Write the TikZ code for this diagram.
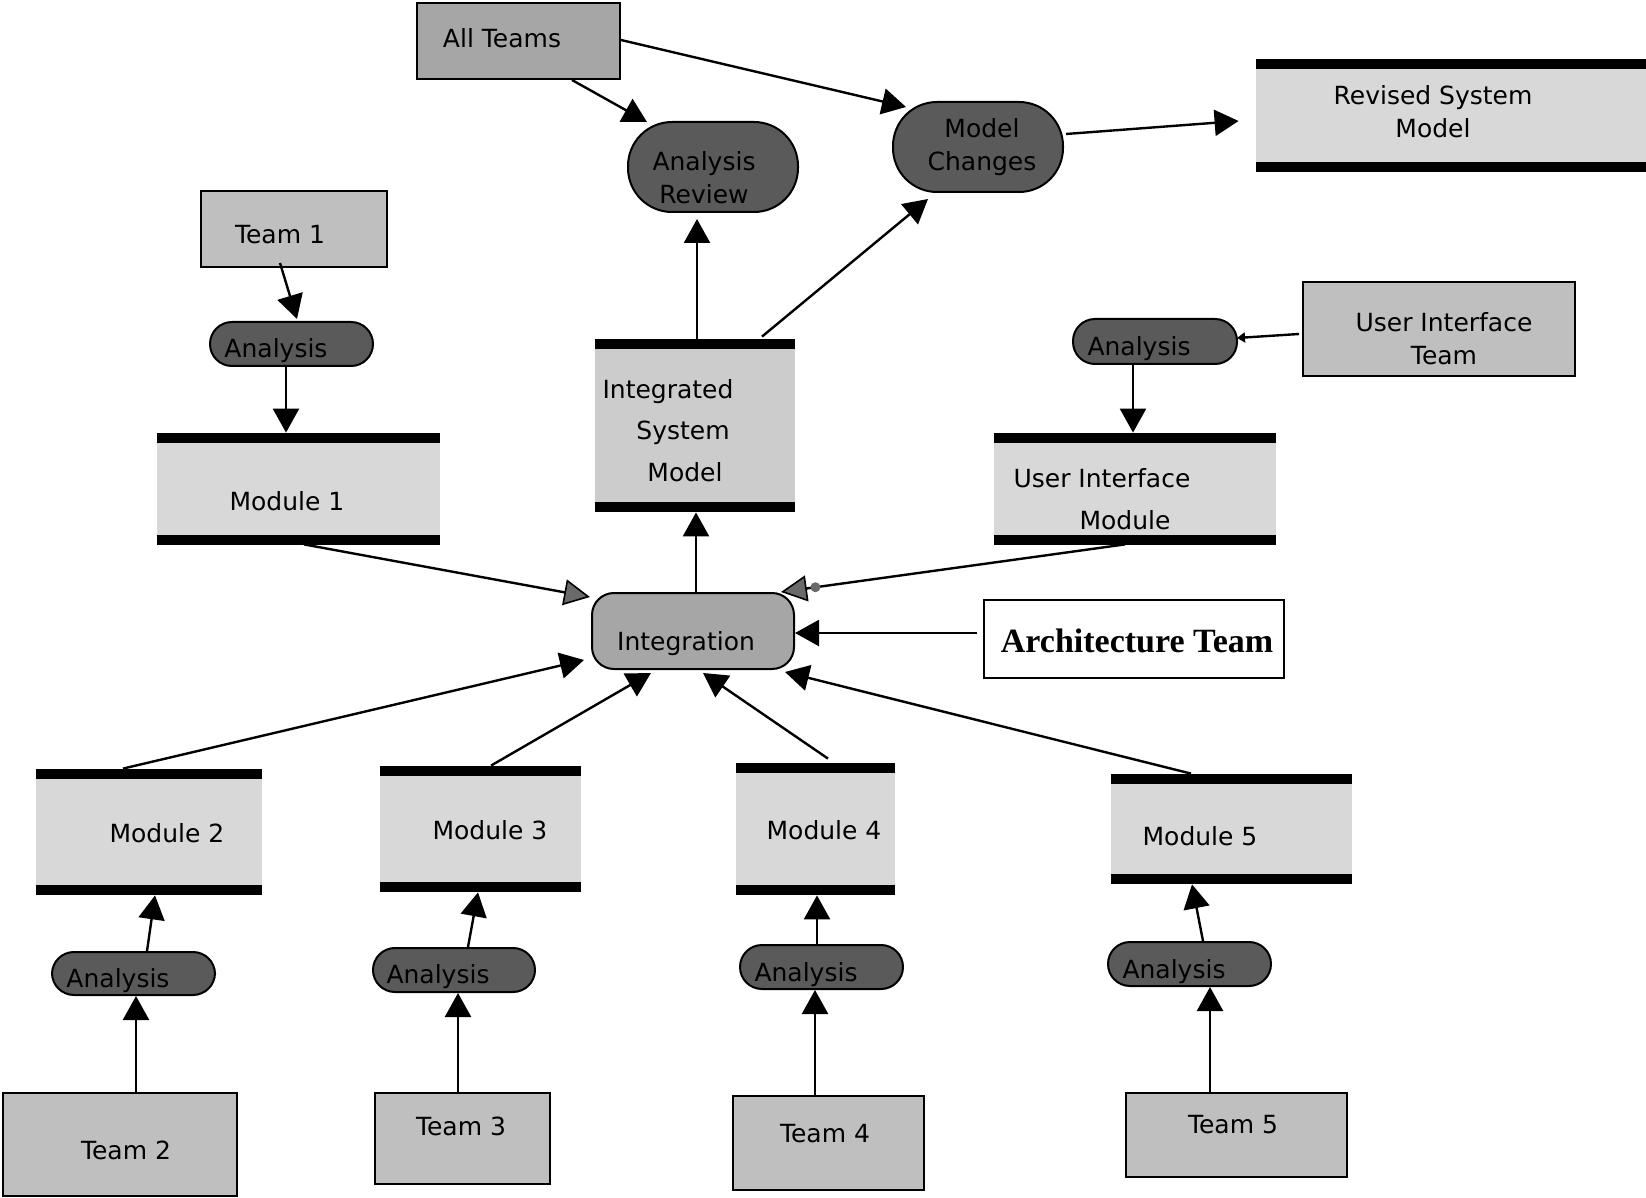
\documentclass[tikz,border=0pt]{standalone}
\usepackage{fontspec}
\setmainfont{DejaVu Sans}
\newfontfamily\archfont{Liberation Serif}
\usetikzlibrary{arrows.meta,calc}

\definecolor{teamgray}{HTML}{BFBFBF}
\definecolor{allgray}{HTML}{A6A6A6}
\definecolor{pilldark}{HTML}{5A5A5A}
\definecolor{storegray}{HTML}{D8D8D8}
\definecolor{ismgray}{HTML}{CCCCCC}
\definecolor{headgray}{HTML}{6A6A6A}

% thick bars above and below a data store
\newcommand\storebars[1]{%
  \draw[bar] ([yshift=-2.5pt]#1.north west) -- ([yshift=-2.5pt]#1.north east)
             ([yshift=2.5pt]#1.south west) -- ([yshift=2.5pt]#1.south east);}

\begin{document}
\begin{tikzpicture}[x=0.5pt,y=-0.5pt,
  lbl/.style={font=\fontsize{12.5}{16.5}\selectfont, inner sep=0pt, text height=0.73em, text depth=0pt},
  lbltwo/.style={font=\fontsize{12.5}{16.5}\selectfont, inner sep=0pt, align=center},
  teambox/.style={draw=black, line width=1pt, fill=teamgray, inner sep=0pt},
  pill/.style={draw=black, line width=1pt, fill=pilldark, inner sep=0pt, rounded corners=11pt},
  bigpill/.style={pill, rounded corners=22pt},
  store/.style={fill=storegray, inner sep=0pt},
  bar/.style={line width=5pt},
  arr/.style={line width=1.2pt, -{Triangle[length=12pt,width=13pt]}},
  grayarr/.style={line width=1.2pt, -{Triangle[length=13pt,width=13pt,fill=headgray,line width=0.8pt]}},
  smallarr/.style={line width=1.2pt, -{Triangle[length=4pt,width=5pt]}},
  dot/.style={circle, fill=headgray, inner sep=0pt, minimum size=5pt},
]
\useasboundingbox (0,0) rectangle (1646,1198);

% ---------- data stores ----------
\node[store, minimum width=195pt, minimum height=56.5pt] (revised) at (1451,115.5) {};
\storebars{revised}
\node[store, fill=ismgray, minimum width=100pt, minimum height=86.5pt] (ism) at (695,425.5) {};
\storebars{ism}
\node[store, minimum width=141.5pt, minimum height=56pt] (m1) at (298.5,489) {};
\storebars{m1}
\node[store, minimum width=141pt, minimum height=56pt] (uimod) at (1135,489) {};
\storebars{uimod}
\node[store, minimum width=113pt, minimum height=63pt] (m2) at (149,832) {};
\storebars{m2}
\node[store, minimum width=100.5pt, minimum height=63pt] (m3) at (480.5,829) {};
\storebars{m3}
\node[store, minimum width=79.5pt, minimum height=66pt] (m4) at (815.5,829) {};
\storebars{m4}
\node[store, minimum width=120.5pt, minimum height=55pt] (m5) at (1231.5,829) {};
\storebars{m5}

% ---------- teams ----------
\node[teambox, fill=allgray, minimum width=101.5pt, minimum height=38pt] (allteams) at (518.5,41) {};
\node[teambox, minimum width=93pt, minimum height=38pt] (team1) at (294,229) {};
\node[teambox, minimum width=136pt, minimum height=47pt] (uiteam) at (1439,329) {};
\node[teambox, minimum width=117pt, minimum height=51.5pt] (team2) at (120,1144.5) {};
\node[teambox, minimum width=87.5pt, minimum height=45.5pt] (team3) at (462.5,1138.5) {};
\node[teambox, minimum width=95.5pt, minimum height=47pt] (team4) at (828.5,1143) {};
\node[teambox, minimum width=110.5pt, minimum height=42pt] (team5) at (1236.5,1135) {};
\node[draw=black, line width=1pt, fill=white, inner sep=0pt, minimum width=150pt, minimum height=39pt] (arch) at (1134,639) {};

% ---------- processes ----------
\node[bigpill, minimum width=85pt, minimum height=45pt] (review) at (713,167) {};
\node[bigpill, minimum width=85pt, minimum height=45pt] (changes) at (978,147) {};
\node[pill, fill=allgray, minimum width=101pt, minimum height=38pt] (integ) at (693,631) {};
\node[pill, minimum width=81.5pt, minimum height=22pt] (an1) at (291.5,344) {};
\node[pill, minimum width=82pt, minimum height=22.5pt] (anui) at (1155,341.5) {};
\node[pill, minimum width=81.5pt, minimum height=21.5pt] (an2) at (133.5,973.5) {};
\node[pill, minimum width=81pt, minimum height=22pt] (an3) at (454,970) {};
\node[pill, minimum width=81.5pt, minimum height=22pt] (an4) at (821.5,967) {};
\node[pill, minimum width=81.5pt, minimum height=22pt] (an5) at (1189.5,964) {};

% ---------- texts ----------
\node[lbl] (allteams-t) at (502,40) {All Teams};
\node[lbltwo] (review-t) at (704,178) {Analysis\\Review};
\node[lbltwo] (changes-t) at (982,147) {Model\\Changes};
\node[lbltwo] (revised-t) at (1433,112) {Revised System\\Model};
\node[lbl] (team1-t) at (280,236) {Team 1};
\node[lbl] (an1-t) at (276,350) {Analysis};
\node[lbl] (m1-t) at (287,503) {Module 1};
\node[lbl] (ism-t1) at (668,391) {Integrated};
\node[lbl] (ism-t2) at (683,432) {System};
\node[lbl] (ism-t3) at (685,474) {Model};
\node[lbltwo] (uiteam-t) at (1444,339) {User Interface\\Team};
\node[lbl] (anui-t) at (1139,348) {Analysis};
\node[lbl] (uimod-t1) at (1102,480) {User Interface};
\node[lbl] (uimod-t2) at (1125,522) {Module};
\node[lbl] (integ-t) at (686,643) {Integration};
\node[inner sep=0pt, font=\archfont\bfseries\fontsize{17}{20}\selectfont] (arch-t) at (1137,641) {Architecture Team};
\node[lbl] (m2-t) at (167,835) {Module 2};
\node[lbl] (m3-t) at (490,832) {Module 3};
\node[lbl] (m4-t) at (824,832) {Module 4};
\node[lbl] (m5-t) at (1200,838) {Module 5};
\node[lbl] (an2-t) at (118,980) {Analysis};
\node[lbl] (an3-t) at (438,976) {Analysis};
\node[lbl] (an4-t) at (806,974) {Analysis};
\node[lbl] (an5-t) at (1174,971) {Analysis};
\node[lbl] (team2-t) at (126,1152) {Team 2};
\node[lbl] (team3-t) at (461,1128) {Team 3};
\node[lbl] (team4-t) at (825,1135) {Team 4};
\node[lbl] (team5-t) at (1233,1126) {Team 5};

% ---------- connectors ----------
\draw[arr] ($(allteams.south)+(53.5,0)$) -- ($(review.north)+(-66,1)$);
\draw[arr] ($(allteams.east)+(0,-1)$) -- ($(changes.west)+(14,-40)$);
\draw[arr] ($(changes.east)+(2,-13)$) -- ($(revised.west)+(-17,5.5)$);
\draw[arr] ($(ism.north)+(2,0)$) -- ($(review.south)+(-16,6)$);
\draw[arr] ($(ism.north)+(67,-2)$) -- ($(changes.south)+(-50,6)$);
\draw[arr] ($(team1.south)+(-14,-5)$) -- ($(an1.north)+(5.5,-2)$);
\draw[arr] ($(an1.south)+(-5.5,0)$) -- ($(m1.north)+(-12.5,0)$);
\draw[smallarr] ($(uiteam.west)+(-3,5)$) -- ($(anui.east)+(-1,-3.5)$);
\draw[arr] ($(anui.south)+(-22,0)$) -- ($(uimod.north)+(-2,0)$);
\draw[grayarr] ($(m1.south)+(5.5,-1)$) -- ($(integ.north west)+(-1,5)$);
\draw[grayarr] ($(uimod.south)+(-10,-1)$) -- ($(integ.north east)+(-14,0)$)
  node[dot, pos=0.9] (uidot) {};
\draw[arr] ($(arch.west)+(-6,-6)$) -- ($(integ.east)+(0,2)$);
\draw[arr] ($(integ.north)+(3,0)$) -- ($(ism.south)+(1,0)$);
\draw[arr] ($(m2.north)+(-26,0)$) -- ($(integ.south west)+(-7,-10)$);
\draw[arr] ($(m3.north)+(10.5,0)$) -- ($(integ.south)+(-42,3)$);
\draw[arr] ($(m4.north)+(12.5,-4)$) -- ($(integ.south)+(10,3)$);
\draw[arr] ($(m5.north)+(-40.5,0)$) -- ($(integ.south east)+(-10,2)$);
\draw[arr] ($(team2.north)+(16,0)$) -- ($(an2.south)+(2.5,0)$);
\draw[arr] ($(an2.north)+(13.5,0)$) -- ($(m2.south)+(6,0)$);
\draw[arr] ($(team3.north)+(-4.5,0)$) -- ($(an3.south)+(4,0)$);
\draw[arr] ($(an3.north)+(14,0)$) -- ($(m3.south)+(-2.5,0)$);
\draw[arr] ($(team4.north)+(-13.5,0)$) -- ($(an4.south)+(-6.5,0)$);
\draw[arr] ($(an4.north)+(-4.5,0)$) -- ($(m4.south)+(1.5,0)$);
\draw[arr] ($(team5.north)+(-26.5,0)$) -- ($(an5.south)+(20.5,0)$);
\draw[arr] ($(an5.north)+(13.5,0)$) -- ($(m5.south)+(-39.5,0)$);
\end{tikzpicture}
\end{document}
